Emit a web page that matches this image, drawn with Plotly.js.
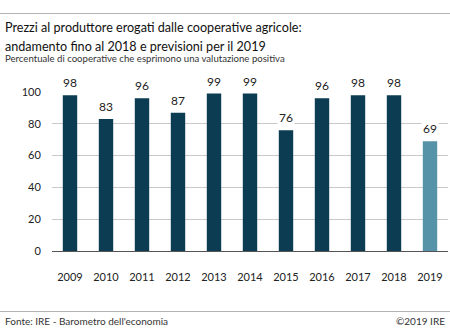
<!DOCTYPE html>
<html><head><meta charset="utf-8">
<script src="https://cdn.plot.ly/plotly-3.0.1.min.js"></script>
<style>html,body{margin:0;padding:0;background:#fff}</style>
</head><body>
<div id="chart" style="width:450px;height:329px"></div>
<script>
const years = ['2009','2010','2011','2012','2013','2014','2015','2016','2017','2018','2019'];
const values = [98, 83, 96, 87, 99, 99, 76, 96, 98, 98, 69];
const yTicks = [0, 20, 40, 60, 80, 100];
const titleLine1 = 'Prezzi al produttore erogati dalle cooperative agricole:';
const titleLine2 = 'andamento fino al 2018 e previsioni per il 2019';
const subtitleText = 'Percentuale di cooperative che esprimono una valutazione positiva';
const sourceText = "Fonte: IRE - Barometro dell'economia";
const copyrightText = '©2019 IRE';

const dark = '#0b3c51';
const light = '#5693a9';
const colors = years.map(y => y === '2019' ? light : dark);
const font = 'Lato, Open Sans, sans-serif';

const W = 450, H = 329, L = 52, R = 2, T = 92, B = 78;
const pw = W - L - R, ph = H - T - B;
const px = x => (x - L) / pw;
const py = y => (H - B - y) / ph;

const annotations = years.map((y, i) => ({
  x: i, y: values[i], xref: 'x', yref: 'y',
  text: String(values[i]), showarrow: false,
  yanchor: 'bottom', yshift: 3,
  bgcolor: '#ffffff', borderpad: 1,
  font: {family: font, size: 12, color: '#222'}
}));
const paperText = (x, y, text, size, anchor, color) => ({
  x: px(x), y: py(y), xref: 'paper', yref: 'paper', xanchor: anchor, yanchor: 'middle',
  text: text, showarrow: false, font: {family: font, size: size, color: color}
});
annotations.push(paperText(3, 27, titleLine1, 12.6, 'left', '#111'));
annotations.push(paperText(3, 46, titleLine2, 12.6, 'left', '#111'));
annotations.push(paperText(3, 58, subtitleText, 9.6, 'left', '#333'));
annotations.push(paperText(3, 321, sourceText, 10, 'left', '#333'));
annotations.push(paperText(447, 321, copyrightText, 10, 'right', '#333'));

const layout = {
  width: W, height: H,
  margin: {l: L, r: R, t: T, b: B},
  paper_bgcolor: '#fff', plot_bgcolor: '#fff',
  showlegend: false,
  bargap: 0.6,
  xaxis: {
    type: 'category', showgrid: false, showline: false, zeroline: false,
    ticks: 'outside', ticklen: 16, tickcolor: 'rgba(0,0,0,0)',
    tickfont: {family: font, size: 11, color: '#222'}
  },
  yaxis: {
    range: [0, 100], tickvals: yTicks,
    showgrid: true, gridcolor: '#c8c8c8', gridwidth: 1,
    zeroline: true, zerolinecolor: '#555', zerolinewidth: 1,
    showline: false, ticks: 'outside', ticklen: 8, tickcolor: 'rgba(0,0,0,0)',
    tickfont: {family: font, size: 11, color: '#222'}
  },
  shapes: [
    {type: 'line', xref: 'paper', yref: 'paper', x0: px(0), x1: px(450), y0: py(13.5), y1: py(13.5), line: {color: '#b4b4b4', width: 1}},
    {type: 'line', xref: 'paper', yref: 'paper', x0: px(0), x1: px(450), y0: py(311.5), y1: py(311.5), line: {color: '#b4b4b4', width: 1}}
  ],
  annotations: annotations
};

Plotly.newPlot('chart', [{
  type: 'bar', x: years, y: values,
  marker: {color: colors}
}], layout, {staticPlot: true});
</script>
</body></html>
